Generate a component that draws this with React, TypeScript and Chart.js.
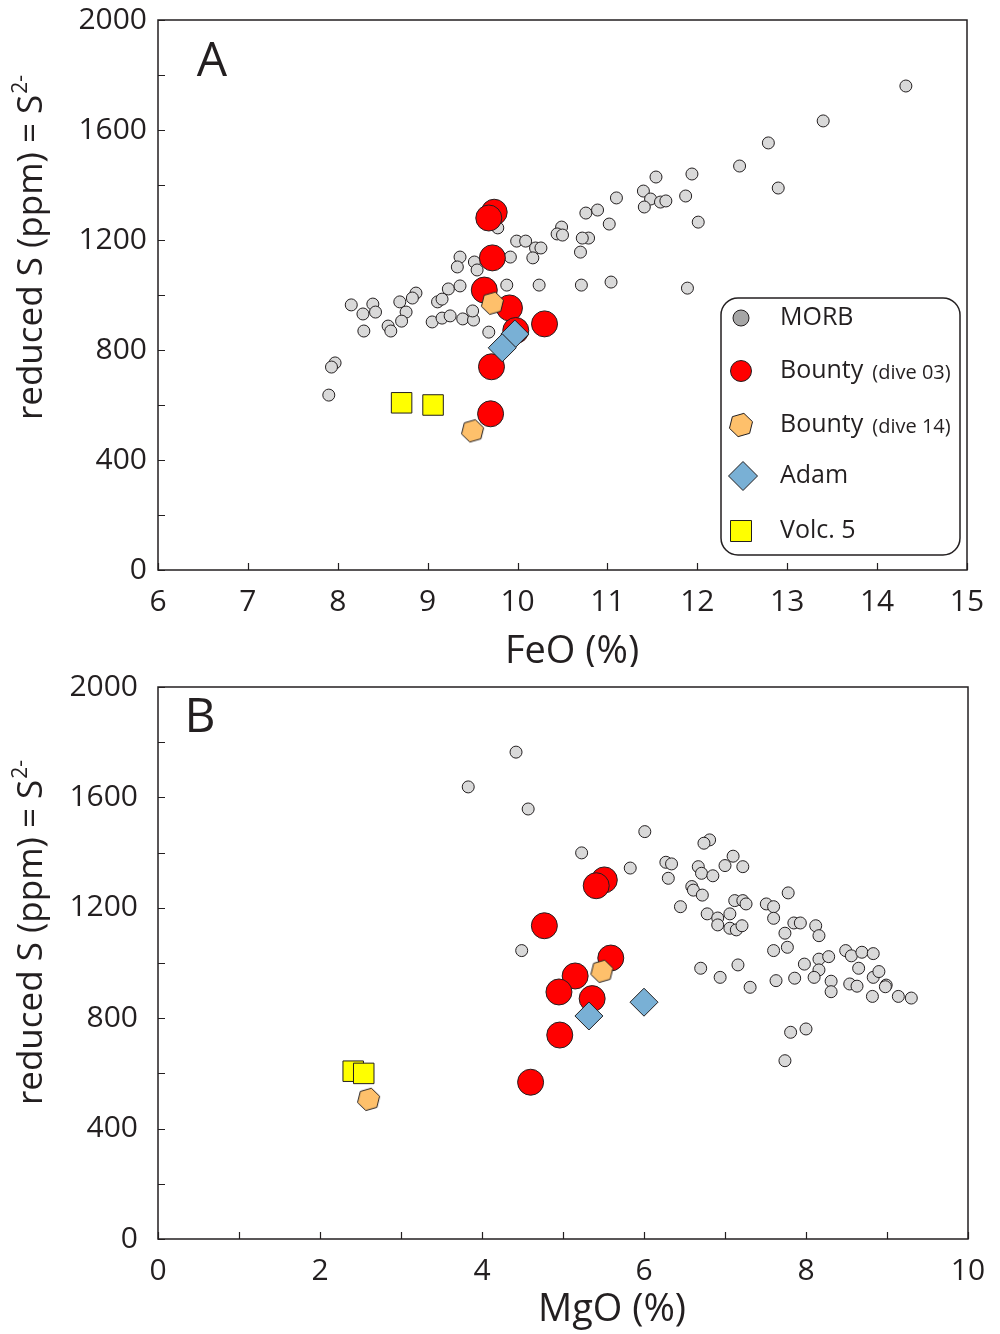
import React, { useEffect, useRef } from 'react';
import { Chart, registerables } from 'chart.js';
Chart.register(...registerables);

// ---------- Data ----------
// Panel A: FeO (%) vs reduced S (ppm)
const morbFeO = [14.32, 13.40, 12.79, 12.47, 12.90, 11.94, 11.54, 11.40, 11.48, 11.59, 11.65, 11.41, 11.87, 12.01, 11.10, 10.89, 10.76, 11.02, 10.79, 10.72, 10.70, 11.04, 11.89, 10.71, 10.49, 10.44, 10.50, 9.99, 10.09, 10.20, 10.26, 10.17, 9.92, 9.88, 10.24, 9.78, 9.36, 9.33, 9.52, 9.55, 9.66, 9.23, 9.36, 9.11, 9.16, 8.87, 8.83, 8.69, 8.76, 8.71, 8.56, 8.59, 8.39, 8.42, 8.28, 8.15, 8.29, 9.05, 9.16, 9.25, 9.39, 9.51, 9.50, 9.68, 7.97, 7.93, 7.90];
const morbS_A = [1760, 1633, 1553, 1469, 1389, 1440, 1429, 1378, 1349, 1338, 1342, 1320, 1360, 1265, 1353, 1309, 1298, 1258, 1207, 1207, 1156, 1047, 1025, 1036, 1247, 1222, 1218, 1196, 1196, 1171, 1171, 1135, 1138, 1036, 1036, 1244, 1138, 1102, 1120, 1091, 1127, 1022, 1033, 975, 985, 1007, 989, 975, 938, 905, 887, 869, 967, 938, 931, 964, 869, 902, 916, 924, 913, 909, 942, 865, 753, 738, 636];

// Panel B: MgO (%) vs reduced S (ppm)
const morbMgO = [4.42, 3.83, 4.57, 6.01, 5.23, 5.83, 6.27, 6.34, 6.30, 6.45, 4.49, 6.59, 6.81, 6.74, 6.67, 6.71, 6.85, 7.00, 7.10, 7.22, 6.61, 6.72, 6.78, 6.91, 6.91, 7.06, 7.06, 7.14, 7.21, 7.12, 7.22, 7.26, 7.51, 7.60, 7.60, 7.78, 7.74, 7.85, 7.93, 8.12, 8.16, 7.60, 7.77, 7.98, 8.16, 8.16, 8.28, 8.10, 8.31, 8.31, 8.49, 8.56, 8.69, 8.83, 8.65, 8.83, 8.90, 8.54, 8.63, 8.99, 8.98, 8.82, 9.14, 9.30, 6.70, 6.94, 7.16, 7.31, 7.63, 7.86, 7.81, 8.00, 7.74];
const morbS_B = [1764, 1638, 1558, 1476, 1399, 1344, 1365, 1359, 1307, 1204, 1045, 1277, 1446, 1434, 1349, 1325, 1316, 1353, 1387, 1349, 1264, 1246, 1178, 1163, 1138, 1178, 1126, 1120, 1135, 1226, 1226, 1214, 1214, 1204, 1162, 1254, 1108, 1145, 1145, 1135, 1099, 1045, 1057, 996, 1014, 975, 1023, 948, 934, 896, 1045, 1026, 1039, 1034, 981, 948, 969, 924, 916, 920, 914, 879, 879, 873, 981, 948, 993, 912, 936, 945, 749, 761, 646];

// Bounty (dive 03)
const bounty03FeO = [9.74, 9.68, 9.72, 9.63, 9.91, 10.30, 9.98, 9.71, 9.70];
const bounty03MgO = [5.51, 5.41, 4.77, 5.59, 5.15, 4.95, 5.36, 4.96, 4.60];
const bounty03S = [1301, 1280, 1135, 1018, 953, 895, 871, 739, 568];

// Bounty (dive 14)
const bounty14FeO = [9.72, 9.50];
const bounty14MgO = [5.48, 2.60];
const bounty14S = [970, 506];

// Adam
const adamFeO = [9.97, 9.83];
const adamMgO = [6.0, 5.32];
const adamS = [858, 808];

// Volc. 5
const volc5FeO = [8.71, 9.06];
const volc5MgO = [2.41, 2.54];
const volc5S = [608, 600];

const legendLabels = ['MORB', 'Bounty', 'Bounty', 'Adam', 'Volc. 5'];
const legendNotes = ['', '(dive 03)', '(dive 14)', '', ''];

const yTitle = 'reduced S (ppm) = S';
const yTitleSup = '2-';

// ---------- Styles ----------
const FONT = '"Open Sans", "Noto Sans", sans-serif';
const INK = '#231f20';
const MORB_FILL = '#d9d9d9';
const RED = '#ff0000';
const ORANGE = '#fec06b';
const BLUE = '#79b0d5';
const YELLOW = '#ffff00';

const pts = (xs: number[], ys: number[]) => xs.map((x, i) => ({ x, y: ys[i] }));

function makeHexagon(r: number, fill: string): HTMLCanvasElement {
  const size = Math.ceil(2 * r + 4);
  const c = document.createElement('canvas');
  c.width = size;
  c.height = size;
  const ctx = c.getContext('2d')!;
  const cx = size / 2, cy = size / 2;
  ctx.beginPath();
  for (let i = 0; i < 6; i++) {
    const a = -Math.PI / 2 + (14 * Math.PI) / 180 + (i * Math.PI) / 3;
    const x = cx + r * Math.cos(a), y = cy + r * Math.sin(a);
    if (i === 0) ctx.moveTo(x, y); else ctx.lineTo(x, y);
  }
  ctx.closePath();
  ctx.fillStyle = fill;
  ctx.fill();
  ctx.lineWidth = 1;
  ctx.strokeStyle = INK;
  ctx.stroke();
  return c;
}

function roundRectPath(ctx: CanvasRenderingContext2D, x: number, y: number, w: number, h: number, r: number) {
  ctx.beginPath();
  ctx.moveTo(x + r, y);
  ctx.lineTo(x + w - r, y);
  ctx.arcTo(x + w, y, x + w, y + r, r);
  ctx.lineTo(x + w, y + h - r);
  ctx.arcTo(x + w, y + h, x + w - r, y + h, r);
  ctx.lineTo(x + r, y + h);
  ctx.arcTo(x, y + h, x, y + h - r, r);
  ctx.lineTo(x, y + r);
  ctx.arcTo(x, y, x + r, y, r);
  ctx.closePath();
}

interface Decor {
  letter: string;
  letterX: number;
  letterY: number;
  xTitle: string;
  xTitleX: number;
  xTitleY: number;
  yTitleCY: number;
  legend?: HTMLCanvasElement;
}

function drawLegend(ctx: CanvasRenderingContext2D, hex: HTMLCanvasElement) {
  const x0 = 721, y0 = 298, x1 = 960, y1 = 555;
  roundRectPath(ctx, x0, y0, x1 - x0, y1 - y0, 17);
  ctx.fillStyle = '#ffffff';
  ctx.fill();
  ctx.lineWidth = 1.5;
  ctx.strokeStyle = INK;
  ctx.stroke();

  const rows = [318, 371, 425, 476, 531];
  const mx = 741;
  ctx.lineWidth = 1;
  // MORB
  ctx.beginPath();
  ctx.arc(mx, rows[0], 8, 0, Math.PI * 2);
  ctx.fillStyle = '#a6a6a6';
  ctx.fill();
  ctx.stroke();
  // Bounty 03
  ctx.beginPath();
  ctx.arc(mx, rows[1], 10.5, 0, Math.PI * 2);
  ctx.fillStyle = RED;
  ctx.fill();
  ctx.stroke();
  // Bounty 14
  ctx.drawImage(hex, mx - hex.width / 2, rows[2] - hex.height / 2);
  // Adam
  const d = 14.5, ax = 743;
  ctx.beginPath();
  ctx.moveTo(ax - d, rows[3]);
  ctx.lineTo(ax, rows[3] - d);
  ctx.lineTo(ax + d, rows[3]);
  ctx.lineTo(ax, rows[3] + d);
  ctx.closePath();
  ctx.fillStyle = BLUE;
  ctx.fill();
  ctx.stroke();
  // Volc 5
  ctx.beginPath();
  ctx.rect(mx - 10.5, rows[4] - 10.5, 21, 21);
  ctx.fillStyle = YELLOW;
  ctx.fill();
  ctx.stroke();

  ctx.fillStyle = INK;
  ctx.textAlign = 'left';
  ctx.textBaseline = 'middle';
  legendLabels.forEach((lab, i) => {
    ctx.font = `25px ${FONT}`;
    ctx.fillText(lab, 780, rows[i]);
    if (legendNotes[i]) {
      const w = ctx.measureText(lab).width;
      ctx.font = `20px ${FONT}`;
      ctx.fillText(legendNotes[i], 780 + w + 9, rows[i] + 2);
    }
  });
}

function decorPlugin(d: Decor) {
  return {
    id: 'decor',
    afterDraw(chart: any) {
      const { ctx, chartArea: a, scales } = chart;
      const xs = scales.x, ys = scales.y;
      ctx.save();
      ctx.strokeStyle = INK;
      ctx.lineWidth = 1.5;
      ctx.strokeRect(a.left, a.top, a.right - a.left, a.bottom - a.top);
      ctx.lineWidth = 1.2;
      ctx.beginPath();
      xs.ticks.forEach((t: any) => {
        const x = Math.round(xs.getPixelForValue(t.value)) + 0.5;
        ctx.moveTo(x, a.bottom);
        ctx.lineTo(x, a.bottom - 7);
      });
      ys.ticks.forEach((t: any) => {
        const y = Math.round(ys.getPixelForValue(t.value)) + 0.5;
        ctx.moveTo(a.left, y);
        ctx.lineTo(a.left + 7, y);
      });
      ctx.stroke();

      ctx.fillStyle = INK;
      // panel letter
      ctx.font = `48px ${FONT}`;
      ctx.textAlign = 'center';
      ctx.textBaseline = 'middle';
      ctx.fillText(d.letter, d.letterX, d.letterY);
      // x title
      ctx.font = `38px ${FONT}`;
      ctx.fillText(d.xTitle, d.xTitleX, d.xTitleY);
      // y title with superscript
      ctx.save();
      ctx.translate(42, d.yTitleCY);
      ctx.rotate(-Math.PI / 2);
      ctx.textAlign = 'left';
      ctx.textBaseline = 'alphabetic';
      ctx.font = `35px ${FONT}`;
      const wMain = ctx.measureText(yTitle).width;
      ctx.font = `21px ${FONT}`;
      const wSup = ctx.measureText(yTitleSup).width;
      const start = -(wMain + wSup) / 2;
      ctx.font = `35px ${FONT}`;
      ctx.fillText(yTitle, start, 0);
      ctx.font = `21px ${FONT}`;
      ctx.fillText(yTitleSup, start + wMain + 1, -15);
      ctx.restore();

      if (d.legend) drawLegend(ctx, d.legend);
      ctx.restore();
    },
  };
}

function makeConfig(opts: {
  xMin: number; xMax: number; labelEvery: number;
  datasets: any[]; yPad: number; xAxisH: number; padRight: number; decor: Decor;
}): any {
  return {
    type: 'scatter',
    data: { datasets: opts.datasets },
    options: {
      responsive: false,
      animation: false,
      events: [],
      devicePixelRatio: 1,
      layout: { padding: { left: 0, top: 20, right: opts.padRight, bottom: 0 } },
      plugins: { legend: { display: false }, tooltip: { enabled: false } },
      scales: {
        x: {
          type: 'linear',
          min: opts.xMin,
          max: opts.xMax,
          grid: { display: false, drawTicks: false },
          border: { display: false },
          ticks: {
            stepSize: 1,
            autoSkip: false,
            maxRotation: 0,
            padding: 14,
            color: INK,
            font: { family: FONT, size: 30 },
            callback: (v: number) => (Math.round(v) % opts.labelEvery === 0 ? String(v) : ''),
          },
          afterFit: (s: any) => { s.height = opts.xAxisH; s.paddingLeft = 0; s.paddingRight = 0; },
        },
        y: {
          type: 'linear',
          min: 0,
          max: 2000,
          grid: { display: false, drawTicks: false },
          border: { display: false },
          ticks: {
            stepSize: 200,
            autoSkip: false,
            padding: opts.yPad,
            color: INK,
            font: { family: FONT, size: 30 },
            callback: (v: number) => (v % 400 === 0 ? String(v) : ''),
          },
          afterFit: (s: any) => { s.width = 158; s.paddingTop = 0; s.paddingBottom = 0; },
        },
      },
    },
    plugins: [decorPlugin(opts.decor)],
  };
}

function datasetsFor(xMorb: number[], yMorb: number[], x03: number[], x14: number[], xAdam: number[], xVolc: number[], hex: HTMLCanvasElement) {
  return [
    { label: 'MORB', data: pts(xMorb, yMorb), pointStyle: 'circle', pointRadius: 6, pointBackgroundColor: MORB_FILL, pointBorderColor: INK, pointBorderWidth: 1, order: 5 },
    { label: 'Bounty (dive 03)', data: pts(x03, bounty03S), pointStyle: 'circle', pointRadius: 13, pointBackgroundColor: RED, pointBorderColor: INK, pointBorderWidth: 1, order: 4 },
    { label: 'Bounty (dive 14)', data: pts(x14, bounty14S), pointStyle: hex, pointRadius: 11, order: 3 },
    { label: 'Adam', data: pts(xAdam, adamS), pointStyle: 'rectRot', pointRadius: 14, pointBackgroundColor: BLUE, pointBorderColor: INK, pointBorderWidth: 1, order: 2 },
    { label: 'Volc. 5', data: pts(xVolc, volc5S), pointStyle: 'rect', pointRadius: 14.5, pointBackgroundColor: YELLOW, pointBorderColor: INK, pointBorderWidth: 1, order: 1 },
  ];
}

export default function App() {
  const refA = useRef<HTMLCanvasElement>(null);
  const refB = useRef<HTMLCanvasElement>(null);

  useEffect(() => {
    const hex = makeHexagon(11.5, ORANGE);
    const hexLegend = makeHexagon(12, ORANGE);
    const chartA = new Chart(refA.current!, makeConfig({
      xMin: 6, xMax: 15, labelEvery: 1, yPad: 11, xAxisH: 97, padRight: 33,
      datasets: datasetsFor(morbFeO, morbS_A, bounty03FeO, bounty14FeO, adamFeO, volc5FeO, hex),
      decor: { letter: 'A', letterX: 212, letterY: 62, xTitle: 'FeO (%)', xTitleX: 572, xTitleY: 652, yTitleCY: 248, legend: hexLegend },
    }));
    const chartB = new Chart(refB.current!, makeConfig({
      xMin: 0, xMax: 10, labelEvery: 2, yPad: 20, xAxisH: 95, padRight: 32,
      datasets: datasetsFor(morbMgO, morbS_B, bounty03MgO, bounty14MgO, adamMgO, volc5MgO, hex),
      decor: { letter: 'B', letterX: 200, letterY: 51, xTitle: 'MgO (%)', xTitleX: 612, xTitleY: 643, yTitleCY: 266 },
    }));
    return () => { chartA.destroy(); chartB.destroy(); };
  }, []);

  return (
    <div style={{ position: 'absolute', left: 0, top: 0, width: 1000, height: 1334, background: '#ffffff' }}>
      <canvas ref={refA} width={1000} height={667} style={{ position: 'absolute', left: 0, top: 0 }} />
      <canvas ref={refB} width={1000} height={667} style={{ position: 'absolute', left: 0, top: 667 }} />
    </div>
  );
}
